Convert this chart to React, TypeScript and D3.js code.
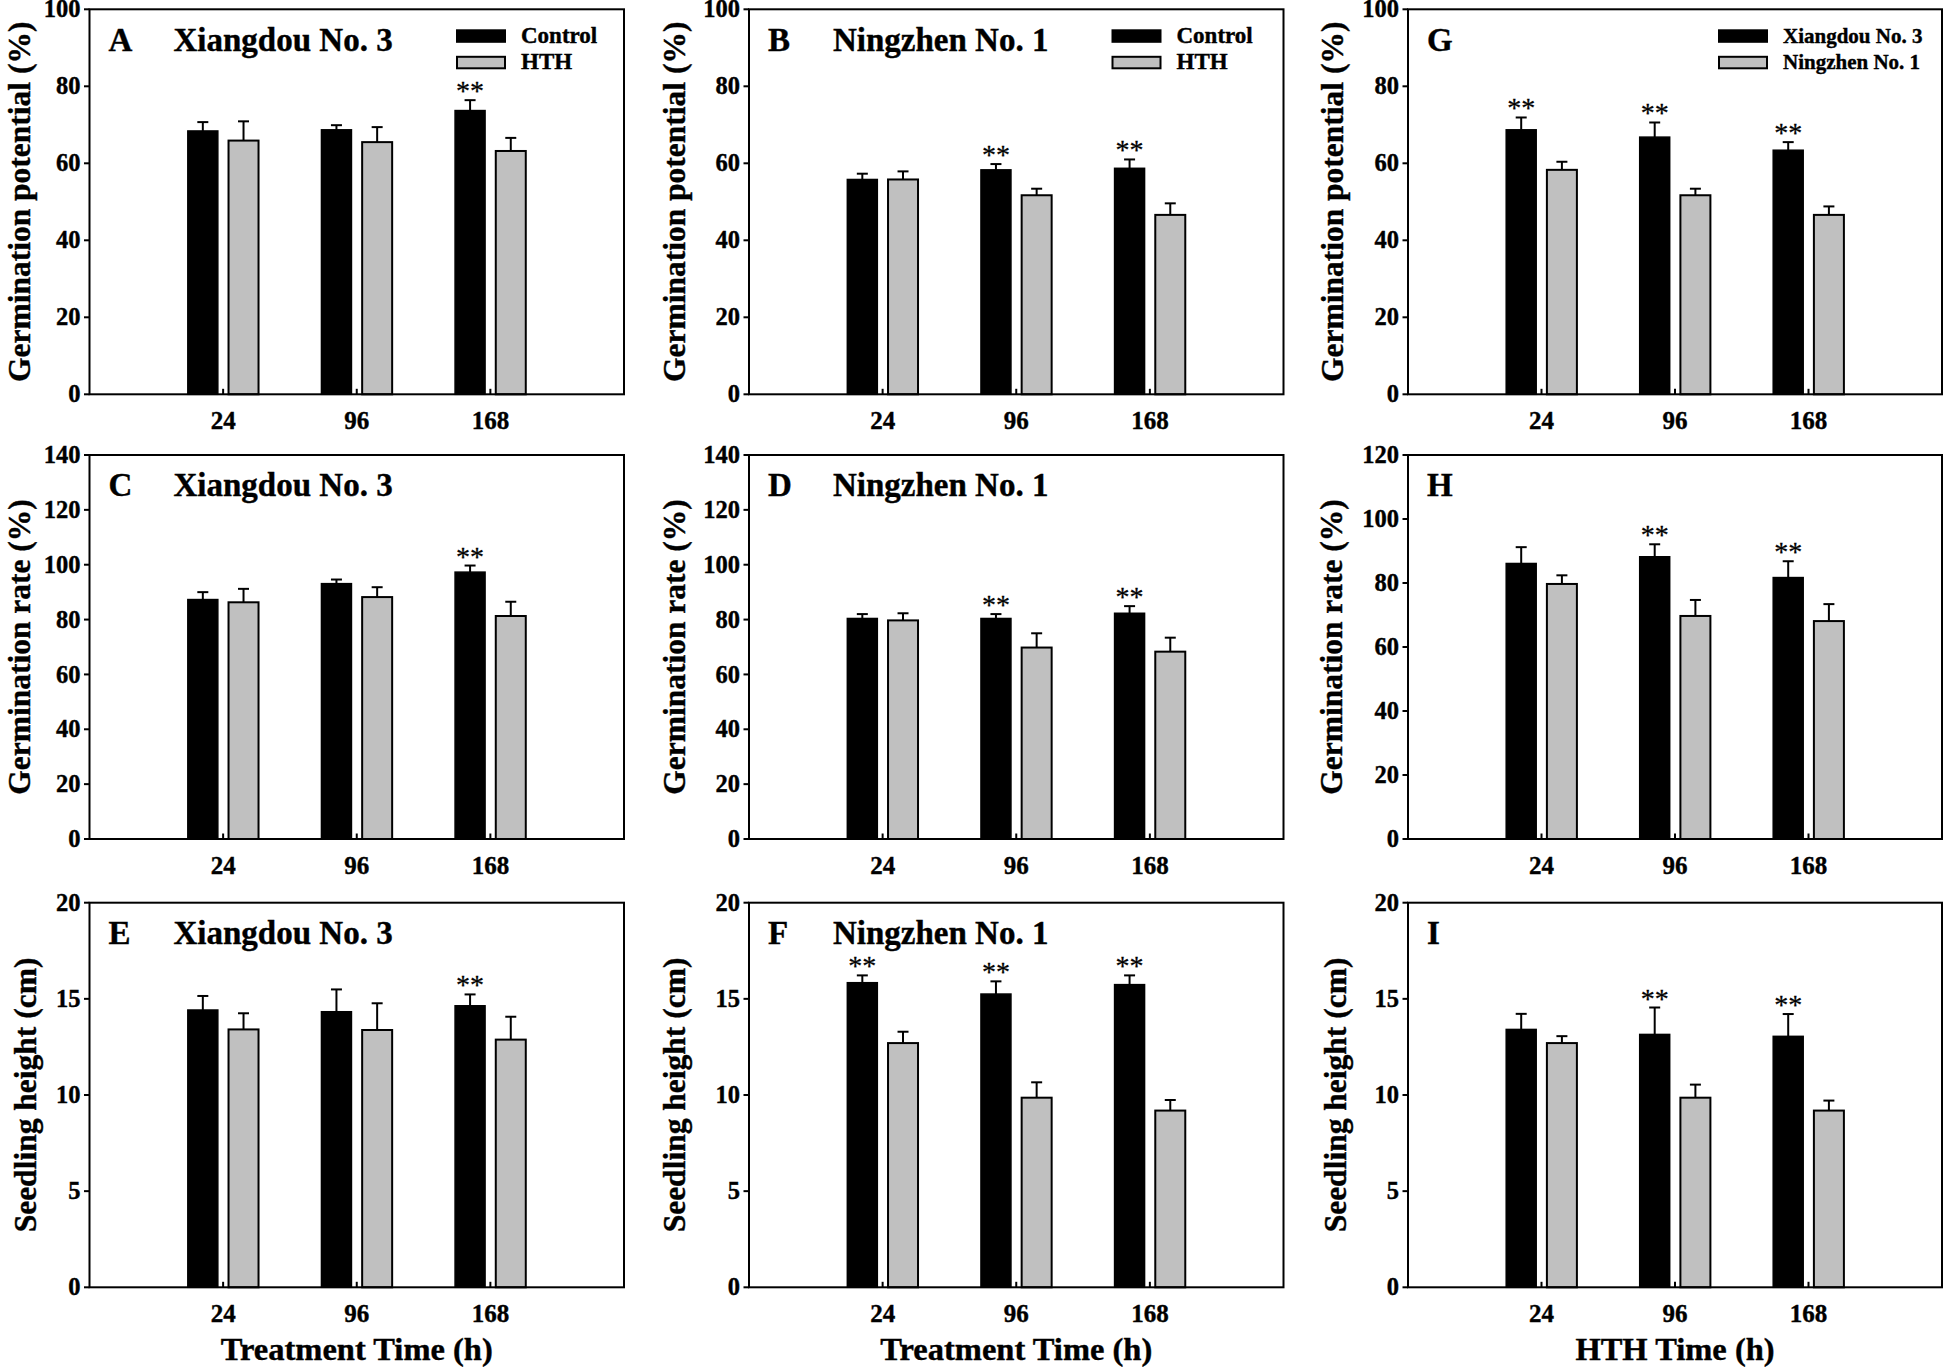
import React from "react";
import * as d3 from "d3";

// ---------- categories & ticks ----------
const timePoints = ["24", "96", "168"];
const gpTicks = [0, 20, 40, 60, 80, 100];
const grTicks = [0, 20, 40, 60, 80, 100, 120, 140];
const grHthTicks = [0, 20, 40, 60, 80, 100, 120];
const shTicks = [0, 5, 10, 15, 20];

// ---------- A: germination potential, Xiangdou No. 3 ----------
const gpXdControl = [68.4, 68.7, 73.7];
const gpXdControlErr = [2.3, 1.2, 2.7];
const gpXdHTH = [65.9, 65.5, 63.2];
const gpXdHTHErr = [5.0, 3.9, 3.4];
const gpXdSig = [false, false, true];

// ---------- B: germination potential, Ningzhen No. 1 ----------
const gpNzControl = [55.8, 58.3, 58.7];
const gpNzControlErr = [1.5, 1.5, 2.3];
const gpNzHTH = [55.8, 51.7, 46.6];
const gpNzHTHErr = [2.1, 1.7, 3.0];
const gpNzSig = [false, true, true];

// ---------- G: germination potential under HTH ----------
const gpHthXd = [68.7, 66.8, 63.4];
const gpHthXdErr = [3.2, 3.8, 2.1];
const gpHthNz = [58.3, 51.7, 46.6];
const gpHthNzErr = [2.1, 1.7, 2.2];
const gpHthSig = [true, true, true];

// ---------- C: germination rate, Xiangdou No. 3 ----------
const grXdControl = [87.3, 93.1, 97.3];
const grXdControlErr = [2.7, 1.5, 2.4];
const grXdHTH = [86.3, 88.2, 81.3];
const grXdHTHErr = [4.9, 3.6, 5.2];
const grXdSig = [false, false, true];

// ---------- D: germination rate, Ningzhen No. 1 ----------
const grNzControl = [80.4, 80.4, 82.3];
const grNzControlErr = [1.6, 1.6, 2.6];
const grNzHTH = [79.7, 69.8, 68.3];
const grNzHTHErr = [2.6, 5.2, 5.1];
const grNzSig = [false, true, true];

// ---------- H: germination rate under HTH ----------
const grHthXd = [86.1, 88.2, 81.7];
const grHthXdErr = [5.1, 3.9, 5.1];
const grHthNz = [79.7, 69.7, 68.1];
const grHthNzErr = [2.7, 5.0, 5.3];
const grHthSig = [false, true, true];

// ---------- E: seedling height, Xiangdou No. 3 ----------
const shXdControl = [14.42, 14.33, 14.64];
const shXdControlErr = [0.73, 1.16, 0.59];
const shXdHTH = [13.41, 13.38, 12.88];
const shXdHTHErr = [0.84, 1.39, 1.19];
const shXdSig = [false, false, true];

// ---------- F: seedling height, Ningzhen No. 1 ----------
const shNzControl = [15.84, 15.25, 15.74];
const shNzControlErr = [0.38, 0.66, 0.48];
const shNzHTH = [12.7, 9.86, 9.19];
const shNzHTHErr = [0.59, 0.8, 0.55];
const shNzSig = [true, true, true];

// ---------- I: seedling height under HTH ----------
const shHthXd = [13.41, 13.15, 13.05];
const shHthXdErr = [0.81, 1.4, 1.16];
const shHthNz = [12.7, 9.86, 9.19];
const shHthNzErr = [0.36, 0.68, 0.52];
const shHthSig = [false, true, true];

const FONT = "'Liberation Serif', 'Times New Roman', serif";
const GRAY = "#c0c0c0";

type PanelCfg = {
  letter: string;
  title?: string;
  x0: number; x1: number; y0: number; y1: number;
  ticks: number[];
  yLabel: string;
  yLabelOff: number;
  xLabel?: string;
  legend?: string[];
  legendX?: number;
  legendFont?: number;
  s1: number[]; e1: number[]; s2: number[]; e2: number[]; sig: boolean[];
};

const COLS = [[89.5, 624], [749, 1283.5], [1408, 1942]];
const ROWS = [[9.3, 394.3], [455, 839], [902.7, 1287.3]];

const panels: PanelCfg[] = [
  { letter: "A", title: "Xiangdou No. 3", x0: COLS[0][0], x1: COLS[0][1], y0: ROWS[0][0], y1: ROWS[0][1], ticks: gpTicks, yLabel: "Germination potential (%)", yLabelOff: 60, legend: ["Control", "HTH"], legendX: COLS[0][1] - 167, legendFont: 23, s1: gpXdControl, e1: gpXdControlErr, s2: gpXdHTH, e2: gpXdHTHErr, sig: gpXdSig },
  { letter: "B", title: "Ningzhen No. 1", x0: COLS[1][0], x1: COLS[1][1], y0: ROWS[0][0], y1: ROWS[0][1], ticks: gpTicks, yLabel: "Germination potential (%)", yLabelOff: 64, legend: ["Control", "HTH"], legendX: COLS[1][1] - 171, legendFont: 23, s1: gpNzControl, e1: gpNzControlErr, s2: gpNzHTH, e2: gpNzHTHErr, sig: gpNzSig },
  { letter: "G", x0: COLS[2][0], x1: COLS[2][1], y0: ROWS[0][0], y1: ROWS[0][1], ticks: gpTicks, yLabel: "Germination potential (%)", yLabelOff: 65, legend: ["Xiangdou No. 3", "Ningzhen No. 1"], legendX: COLS[2][1] - 223, legendFont: 21, s1: gpHthXd, e1: gpHthXdErr, s2: gpHthNz, e2: gpHthNzErr, sig: gpHthSig },
  { letter: "C", title: "Xiangdou No. 3", x0: COLS[0][0], x1: COLS[0][1], y0: ROWS[1][0], y1: ROWS[1][1], ticks: grTicks, yLabel: "Germination rate (%)", yLabelOff: 60, s1: grXdControl, e1: grXdControlErr, s2: grXdHTH, e2: grXdHTHErr, sig: grXdSig },
  { letter: "D", title: "Ningzhen No. 1", x0: COLS[1][0], x1: COLS[1][1], y0: ROWS[1][0], y1: ROWS[1][1], ticks: grTicks, yLabel: "Germination rate (%)", yLabelOff: 64, s1: grNzControl, e1: grNzControlErr, s2: grNzHTH, e2: grNzHTHErr, sig: grNzSig },
  { letter: "H", x0: COLS[2][0], x1: COLS[2][1], y0: ROWS[1][0], y1: ROWS[1][1], ticks: grHthTicks, yLabel: "Germination rate (%)", yLabelOff: 66, s1: grHthXd, e1: grHthXdErr, s2: grHthNz, e2: grHthNzErr, sig: grHthSig },
  { letter: "E", title: "Xiangdou No. 3", x0: COLS[0][0], x1: COLS[0][1], y0: ROWS[2][0], y1: ROWS[2][1], ticks: shTicks, yLabel: "Seedling height (cm)", yLabelOff: 54, xLabel: "Treatment Time (h)", s1: shXdControl, e1: shXdControlErr, s2: shXdHTH, e2: shXdHTHErr, sig: shXdSig },
  { letter: "F", title: "Ningzhen No. 1", x0: COLS[1][0], x1: COLS[1][1], y0: ROWS[2][0], y1: ROWS[2][1], ticks: shTicks, yLabel: "Seedling height (cm)", yLabelOff: 64, xLabel: "Treatment Time (h)", s1: shNzControl, e1: shNzControlErr, s2: shNzHTH, e2: shNzHTHErr, sig: shNzSig },
  { letter: "I", x0: COLS[2][0], x1: COLS[2][1], y0: ROWS[2][0], y1: ROWS[2][1], ticks: shTicks, yLabel: "Seedling height (cm)", yLabelOff: 62, xLabel: "HTH Time (h)", s1: shHthXd, e1: shHthXdErr, s2: shHthNz, e2: shHthNzErr, sig: shHthSig },
];

const BAR_W = 30;
const OFF1 = -35.3;
const OFF2 = 5.4;

const boldText = {
  fontFamily: FONT,
  fontWeight: "bold" as const,
  fill: "#000",
  stroke: "#000",
  strokeWidth: 0.4,
};

function Panel({ p }: { p: PanelCfg }) {
  const x = d3.scalePoint<string>().domain(timePoints).range([p.x0, p.x1]).padding(1);
  const yMax = p.ticks[p.ticks.length - 1];
  const y = d3.scaleLinear().domain([0, yMax]).range([p.y1, p.y0]);

  const series = [
    { vals: p.s1, errs: p.e1, off: OFF1, fill: "#000", sw: 1.5 },
    { vals: p.s2, errs: p.e2, off: OFF2, fill: GRAY, sw: 2 },
  ];

  return (
    <g>
      {/* bars with error bars */}
      {series.map((s, si) =>
        timePoints.map((t, i) => {
          const cx = (x(t) as number) + s.off;
          const top = y(s.vals[i]);
          const errTop = y(s.vals[i] + s.errs[i]);
          const mid = cx + BAR_W / 2;
          return (
            <g key={`${si}-${t}`}>
              <line x1={mid} x2={mid} y1={top} y2={errTop} stroke="#000" strokeWidth={2} />
              <line x1={mid - 5.5} x2={mid + 5.5} y1={errTop} y2={errTop} stroke="#000" strokeWidth={2} />
              <rect x={cx} y={top} width={BAR_W} height={p.y1 - top} fill={s.fill} stroke="#000" strokeWidth={s.sw} />
              {si === 0 && p.sig[i] && (
                <text x={mid} y={errTop} textAnchor="middle" fontFamily={FONT} fontSize={28} fill="#000" stroke="#000" strokeWidth={0.3}>**</text>
              )}
            </g>
          );
        })
      )}
      {/* frame */}
      <rect x={p.x0} y={p.y0} width={p.x1 - p.x0} height={p.y1 - p.y0} fill="none" stroke="#000" strokeWidth={2} />
      {/* x ticks (inside) */}
      {timePoints.map((t) => (
        <g key={t}>
          <line x1={x(t)} x2={x(t)} y1={p.y1} y2={p.y1 - 5.5} stroke="#000" strokeWidth={2} />
          <text x={x(t)} y={p.y1 + 35} textAnchor="middle" fontSize={25} {...boldText}>{t}</text>
        </g>
      ))}
      {/* y ticks (outside) */}
      {p.ticks.map((v) => (
        <g key={v}>
          <line x1={p.x0 - 5.5} x2={p.x0} y1={y(v)} y2={y(v)} stroke="#000" strokeWidth={2} />
          <text x={p.x0 - 9} y={y(v)} dy="0.33em" textAnchor="end" fontSize={24.5} {...boldText}>{v}</text>
        </g>
      ))}
      {/* y label */}
      <text
        transform={`translate(${p.x0 - p.yLabelOff},${(p.y0 + p.y1) / 2}) rotate(-90)`}
        textAnchor="middle" fontSize={31.5} {...boldText}
      >{p.yLabel}</text>
      {/* panel letter & title */}
      <text x={p.x0 + 19} y={p.y0 + 41.4} fontSize={33} {...boldText}>{p.letter}</text>
      {p.title && (
        <text x={p.x0 + 84} y={p.y0 + 41.4} fontSize={33} {...boldText}>{p.title}</text>
      )}
      {/* legend */}
      {p.legend && p.legend.map((lab, i) => (
        <g key={lab}>
          <rect x={p.legendX} y={p.y0 + 21 + i * 26.5} width={48} height={11.5} fill={i === 0 ? "#000" : GRAY} stroke="#000" strokeWidth={2} />
          <text x={(p.legendX as number) + 64} y={p.y0 + 33.5 + i * 26} fontSize={p.legendFont} {...boldText}>{lab}</text>
        </g>
      ))}
      {/* x label */}
      {p.xLabel && (
        <text x={(p.x0 + p.x1) / 2} y={p.y1 + 73} textAnchor="middle" fontSize={32.5} {...boldText}>{p.xLabel}</text>
      )}
    </g>
  );
}

export default function App() {
  return (
    <svg width={1946} height={1370} viewBox="0 0 1946 1370" style={{ position: "absolute", left: 0, top: 0, background: "#fff" }}>
      <rect x={0} y={0} width={1946} height={1370} fill="#fff" />
      {panels.map((p) => (
        <Panel key={p.letter} p={p} />
      ))}
    </svg>
  );
}
